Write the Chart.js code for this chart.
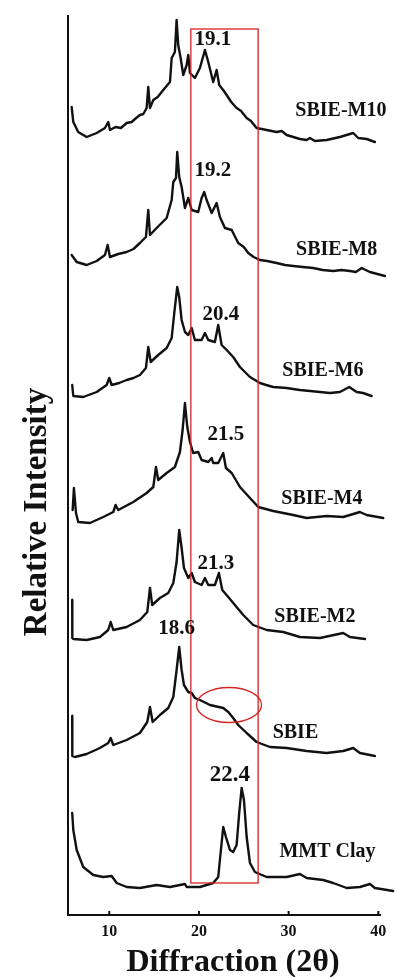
<!DOCTYPE html>
<html>
<head>
<meta charset="utf-8">
<title>XRD patterns</title>
<script src="https://cdn.jsdelivr.net/npm/chart.js@4.4.0/dist/chart.umd.min.js"></script>
<style>
    html, body { margin: 0; padding: 0; background: #fff; }
    .chart-wrap { width: 395px; height: 977px; position: relative; }
</style>
</head>
<body>
<div class="chart-wrap"><canvas id="xrdChart"></canvas></div>
<script>
// 2-theta (deg) and relative intensity of every trace
const m10Theta = [5.81, 5.99, 6.54, 7.48, 8.60, 9.52, 9.89, 10.08, 10.7, 11.3, 11.94, 12.5, 13.0, 13.42, 13.8, 14.17, 14.35, 14.54, 14.91, 15.4, 16.02, 16.77, 16.96, 17.32, 17.51, 17.69, 17.96, 18.25, 18.63, 18.81, 19.0, 19.55, 20.11, 20.67, 21.04, 21.59, 21.97, 22.26, 22.7, 23.09, 23.6, 24.20, 24.7, 25.32, 25.8, 26.43, 27.0, 27.55, 28.66, 29.22, 29.78, 31.26, 32.01, 32.37, 32.93, 34.24, 35.72, 37.20, 37.76, 38.70, 39.62];
const m10Int = [35, 20, 10, 5, 9, 14, 20, 12, 15, 14, 19, 20, 24, 27, 28, 34, 55, 34, 42, 45, 52, 60, 84, 90, 122, 97, 84, 67, 77, 87, 69, 64, 74, 92, 80, 60, 72, 57, 52, 47, 40, 34, 31, 24, 21, 14, 13, 12, 10, 11, 7, 3, 2, 4, 1, 2, 5, 9, 4, 3, 0];

const m8Theta = [5.81, 6.37, 7.48, 8.60, 9.52, 9.82, 10.08, 11.0, 11.94, 12.7, 13.42, 14.09, 14.35, 14.54, 15.28, 16.40, 16.96, 17.14, 17.44, 17.58, 17.80, 18.07, 18.44, 18.81, 19.19, 19.92, 20.30, 20.59, 20.86, 21.42, 21.97, 22.34, 22.90, 23.65, 24.38, 25.0, 25.50, 26.1, 26.80, 27.6, 28.66, 29.6, 30.51, 31.6, 32.74, 33.8, 34.97, 35.9, 36.83, 37.5, 38.14, 39.06, 40.74];
const m8Int = [22, 15, 12, 16, 22, 32, 20, 23, 25, 28, 34, 40, 67, 42, 49, 59, 77, 95, 99, 125, 100, 90, 69, 79, 67, 65, 79, 85, 77, 64, 74, 60, 49, 47, 34, 30, 24, 20, 17, 16, 14, 12, 11, 10, 9, 7, 6, 7, 6, 5, 9, 5, 1];

const m6Theta = [5.87, 5.99, 7.10, 8.60, 9.71, 10.0, 10.27, 11.1, 11.94, 12.7, 13.42, 14.09, 14.35, 14.62, 15.46, 16.40, 16.96, 17.25, 17.58, 17.80, 18.07, 18.44, 18.81, 19.19, 19.55, 20.30, 20.67, 21.04, 21.78, 22.15, 22.53, 23.09, 23.82, 24.57, 25.69, 26.80, 27.5, 28.28, 29.78, 30.5, 31.26, 32.4, 33.49, 34.6, 35.72, 36.76, 37.58, 38.3, 39.25];
const m6Int = [12, 1, 0, 5, 12, 19, 12, 14, 17, 19, 22, 29, 50, 35, 42, 49, 59, 84, 110, 100, 77, 65, 62, 69, 57, 57, 64, 57, 55, 72, 52, 47, 40, 30, 20, 14, 12, 10, 9, 8, 7, 6, 5, 4, 5, 10, 5, 4, 1];

const m4Theta = [5.92, 6.06, 6.29, 6.54, 7.85, 9.33, 10.45, 10.71, 11.0, 12.68, 14.17, 14.91, 15.21, 15.46, 16.40, 17.32, 17.88, 18.18, 18.44, 18.70, 19.0, 19.36, 19.92, 20.30, 21.04, 21.42, 21.59, 22.15, 22.71, 23.01, 23.65, 24.57, 25.69, 26.61, 28.28, 30.51, 32.01, 34.24, 36.09, 37.95, 38.70, 40.55];
const m4Int = [14, 36, 11, 2, 1, 7, 12, 19, 14, 22, 31, 37, 57, 44, 51, 57, 72, 94, 121, 97, 82, 71, 72, 64, 62, 66, 61, 61, 71, 56, 51, 37, 26, 17, 13, 9, 6, 8, 7, 12, 9, 6];

const m2Theta = [5.87, 5.88, 5.99, 7.48, 8.96, 9.89, 10.16, 10.45, 11.94, 13.42, 14.24, 14.54, 14.79, 15.65, 16.58, 17.14, 17.51, 17.80, 18.07, 18.33, 18.81, 19.19, 19.55, 20.30, 20.67, 21.04, 21.78, 22.23, 22.60, 23.27, 24.01, 24.94, 26.05, 27.55, 29.40, 31.26, 33.49, 36.09, 36.83, 38.51];
const m2Int = [40, 2, 1, 0, 3, 10, 18, 10, 13, 20, 28, 52, 35, 42, 47, 57, 78, 110, 92, 72, 62, 67, 58, 55, 62, 55, 55, 67, 50, 43, 35, 25, 15, 10, 8, 3, 2, 7, 3, 1];

const sbieTheta = [5.87, 5.88, 6.18, 7.48, 8.96, 9.89, 10.16, 10.45, 11.94, 13.42, 14.24, 14.54, 14.84, 15.65, 16.58, 17.14, 17.51, 17.80, 18.07, 18.33, 18.81, 19.19, 19.55, 20.11, 21.23, 22.71, 23.27, 23.82, 24.38, 25.32, 26.43, 27.92, 29.78, 32.01, 34.24, 36.09, 37.20, 37.95, 39.62];
const sbieInt = [41, 1, 0, 3, 9, 14, 19, 12, 17, 24, 35, 50, 35, 42, 49, 60, 87, 110, 87, 72, 65, 64, 59, 57, 52, 49, 45, 39, 32, 24, 15, 10, 9, 6, 4, 6, 9, 4, 1];

const mmtTheta = [5.87, 5.99, 6.37, 7.10, 8.22, 9.33, 10.27, 10.83, 11.94, 13.42, 15.28, 16.77, 18.44, 18.63, 20.11, 21.59, 22.15, 22.45, 22.71, 23.01, 23.46, 23.82, 24.20, 24.49, 24.76, 25.02, 25.32, 25.69, 26.24, 27.55, 29.78, 31.26, 32.01, 33.86, 34.97, 36.47, 37.95, 39.06, 39.62, 41.66];
const mmtInt = [78, 61, 41, 24, 16, 14, 15, 8, 4, 3, 6, 4, 7, 4, 4, 8, 14, 41, 64, 54, 41, 39, 46, 78, 103, 91, 54, 28, 19, 14, 14, 17, 13, 11, 8, 3, 4, 7, 3, 0];

const seriesNames = ['SBIE-M10', 'SBIE-M8', 'SBIE-M6', 'SBIE-M4', 'SBIE-M2', 'SBIE', 'MMT Clay'];
const stackOffsets = [773, 638, 518, 391, 275, 158, 24];   // vertical shift of each trace
const peakNotes = ['19.1', '19.2', '20.4', '21.5', '21.3', '18.6', '22.4'];
const xTicks = [10, 20, 30, 40];

const thetas = [m10Theta, m8Theta, m6Theta, m4Theta, m2Theta, sbieTheta, mmtTheta];
const intensities = [m10Int, m8Int, m6Int, m4Int, m2Int, sbieInt, mmtInt];

// where the annotations sit, in data units
const nameSpots = [[35.83, 804], [35.35, 665], [33.82, 544], [33.71, 416], [32.93, 298], [30.76, 182], [34.33, 63]];
const noteSpots = [[21.56, 875], [21.56, 744], [22.45, 600], [23.01, 480], [21.89, 351], [17.51, 286], [23.46, 140]];
const boxTheta = [19.1, 26.6];
const boxLevel = [32, 886];
const ring = { theta: 23.35, level: 210, rx: 32.5, ry: 17.5 };

const SERIF = '"Liberation Serif", "Times New Roman", serif';

const datasets = seriesNames.map((name, i) => ({
    label: name,
    data: thetas[i].map((t, j) => ({ x: t, y: stackOffsets[i] + intensities[i][j] })),
    borderColor: '#111',
    borderWidth: 2.4,
    borderJoinStyle: 'round',
    borderCapStyle: 'round',
    pointRadius: 0,
    tension: 0,
    fill: false,
    clip: false
}));

// axes, labels and the red marks
const overlay = {
    id: 'overlay',
    afterDatasetsDraw(chart) {
        const { ctx, chartArea: a, scales: { x, y } } = chart;
        ctx.save();

        // red box
        ctx.strokeStyle = '#d42424';
        ctx.lineWidth = 1.3;
        const bx0 = x.getPixelForValue(boxTheta[0]);
        const bx1 = x.getPixelForValue(boxTheta[1]);
        const by0 = y.getPixelForValue(boxLevel[1]);
        const by1 = y.getPixelForValue(boxLevel[0]);
        ctx.strokeRect(bx0, by0, bx1 - bx0, by1 - by0);

        // red ring
        ctx.beginPath();
        ctx.ellipse(x.getPixelForValue(ring.theta), y.getPixelForValue(ring.level), ring.rx, ring.ry, 0, 0, Math.PI * 2);
        ctx.stroke();

        // axis lines
        ctx.strokeStyle = '#111';
        ctx.lineWidth = 2;
        ctx.beginPath();
        ctx.moveTo(a.left, a.top);
        ctx.lineTo(a.left, a.bottom);
        ctx.lineTo(a.right, a.bottom);
        ctx.stroke();

        // ticks
        ctx.fillStyle = '#111';
        ctx.textAlign = 'center';
        ctx.textBaseline = 'middle';
        ctx.font = 'bold 16px ' + SERIF;
        xTicks.forEach(t => {
            const px = x.getPixelForValue(t);
            ctx.beginPath();
            ctx.moveTo(px, a.bottom);
            ctx.lineTo(px, a.bottom - 4);
            ctx.stroke();
            ctx.fillText(String(t), px, a.bottom + 17);
        });

        // axis titles
        ctx.font = 'bold 32px ' + SERIF;
        ctx.fillText('Diffraction (2θ)', a.left + 165, a.bottom + 48);
        ctx.save();
        ctx.translate(37, 512);
        ctx.rotate(-Math.PI / 2);
        ctx.font = 'bold 33px ' + SERIF;
        ctx.fillText('Relative Intensity', 0, 0);
        ctx.restore();

        // trace names
        ctx.font = 'bold 20px ' + SERIF;
        seriesNames.forEach((name, i) => {
            ctx.fillText(name, x.getPixelForValue(nameSpots[i][0]), y.getPixelForValue(nameSpots[i][1]));
        });

        // peak positions
        peakNotes.forEach((note, i) => {
            ctx.font = 'bold ' + (i === 6 ? 23 : 21) + 'px ' + SERIF;
            ctx.fillText(note, x.getPixelForValue(noteSpots[i][0]), y.getPixelForValue(noteSpots[i][1]));
        });

        ctx.restore();
    }
};

new Chart(document.getElementById('xrdChart'), {
    type: 'line',
    data: { datasets: datasets },
    options: {
        responsive: true,
        maintainAspectRatio: false,
        animation: false,
        layout: { padding: { left: 68, right: 14, top: 15, bottom: 62 } },
        scales: {
            x: { type: 'linear', min: 5.4, max: 40.3, display: false },
            y: { min: 0, max: 900, display: false }
        },
        plugins: {
            legend: { display: false },
            tooltip: { enabled: false }
        }
    },
    plugins: [overlay]
});
</script>
</body>
</html>
